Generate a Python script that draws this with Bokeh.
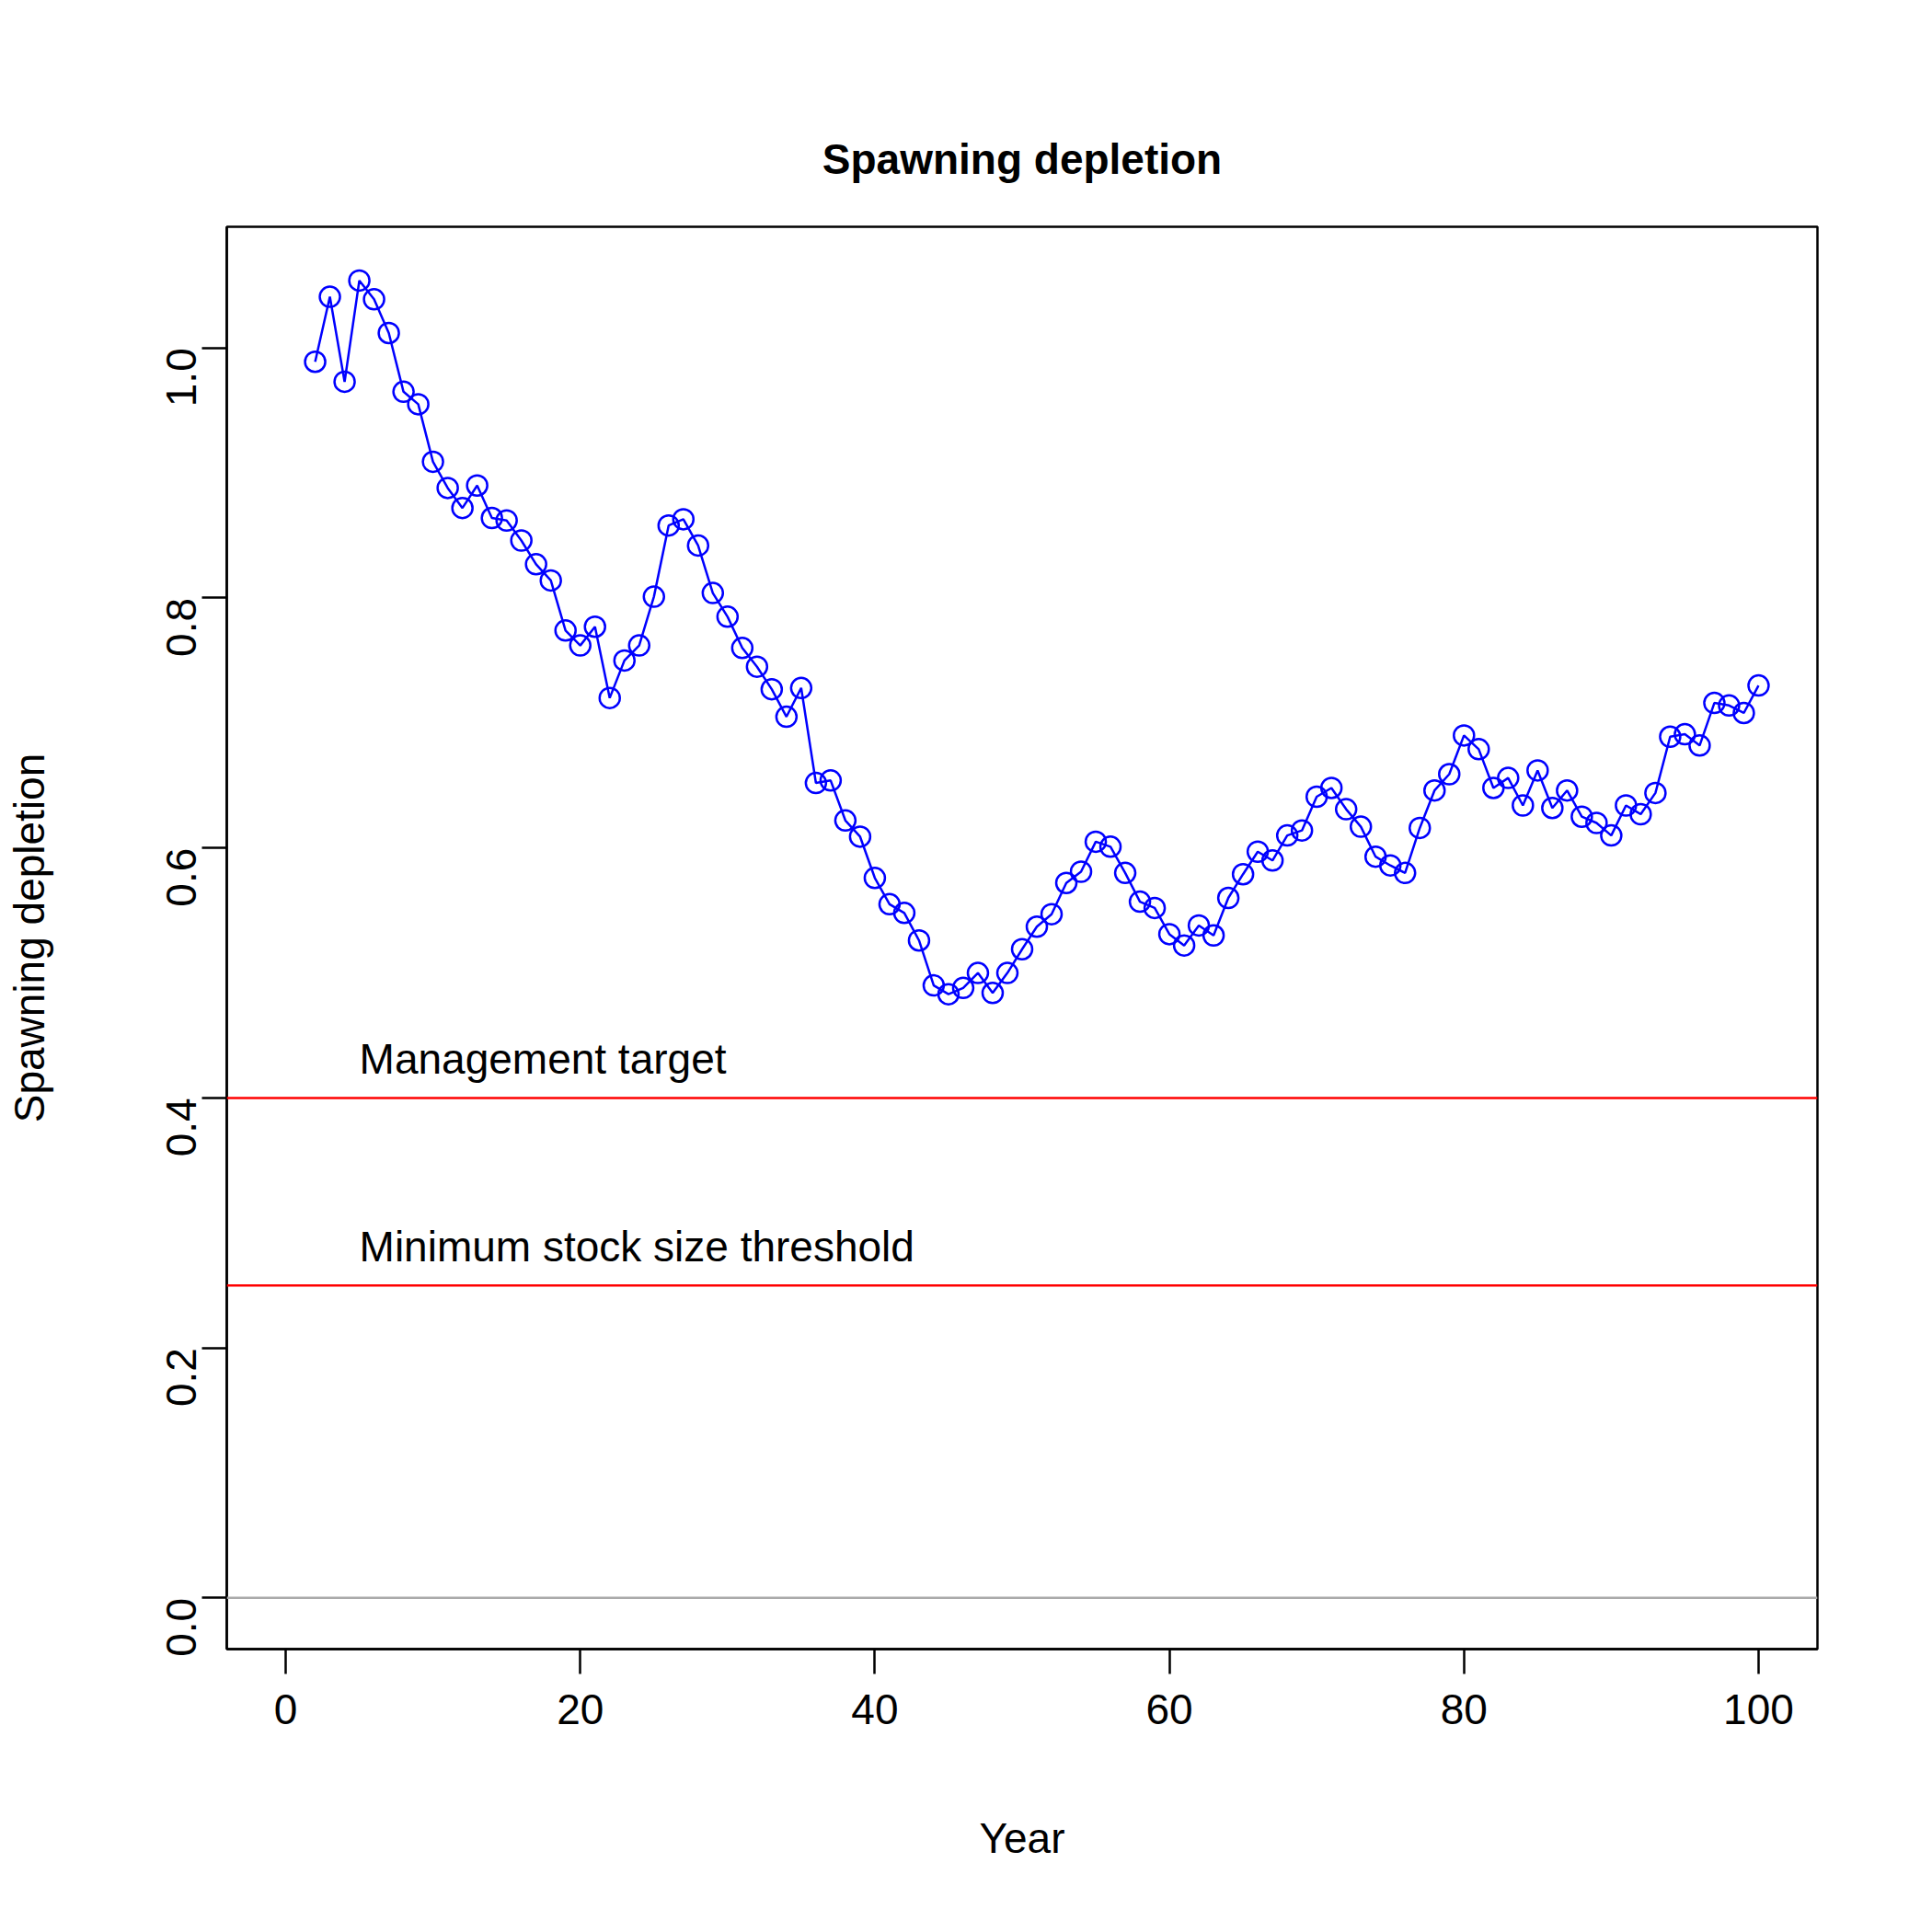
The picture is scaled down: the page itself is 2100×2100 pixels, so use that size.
import math
from bokeh.plotting import figure
from bokeh.models import Span, Label, Range1d
from bokeh.embed import file_html
from bokeh.resources import INLINE

years = list(range(2, 101))
depletion = [0.989, 1.041, 0.973, 1.054, 1.039, 1.012, 0.965, 0.955, 0.909, 0.888,
             0.872, 0.890, 0.864, 0.862, 0.846, 0.827, 0.814, 0.774, 0.762, 0.777,
             0.720, 0.750, 0.762, 0.801, 0.858, 0.863, 0.842, 0.804, 0.785, 0.760,
             0.745, 0.727, 0.705, 0.728, 0.652, 0.654, 0.622, 0.609, 0.576, 0.555,
             0.548, 0.526, 0.490, 0.483, 0.488, 0.500, 0.484, 0.500, 0.519, 0.537,
             0.547, 0.572, 0.581, 0.605, 0.601, 0.580, 0.557, 0.552, 0.531, 0.522,
             0.538, 0.530, 0.560, 0.579, 0.597, 0.590, 0.610, 0.614, 0.641, 0.648,
             0.631, 0.617, 0.593, 0.586, 0.580, 0.616, 0.646, 0.659, 0.690, 0.679,
             0.648, 0.656, 0.634, 0.662, 0.632, 0.646, 0.625, 0.620, 0.610, 0.634,
             0.627, 0.644, 0.689, 0.691, 0.682, 0.716, 0.714, 0.708, 0.730]
ref_levels = [0.4, 0.25]
ref_labels = ["Management target", "Minimum stock size threshold"]

FONT = "Liberation Sans"

p = figure(width=2080, height=2080, output_backend="svg", toolbar_location=None,
           x_range=Range1d(-4.0, 104.0), y_range=Range1d(-0.041, 1.097),
           title="Spawning depletion", x_axis_label="Year", y_axis_label="Spawning depletion",
           min_border_left=246, min_border_top=246, min_border_right=105, min_border_bottom=288)

p.title.align = "center"
p.title.text_font = FONT
p.title.text_font_size = "46px"
p.title.text_font_style = "bold"
p.title.text_color = "black"
p.title.standoff = 95
p.grid.visible = False
p.outline_line_color = "black"
p.outline_line_width = 2.5
p.background_fill_color = "white"

for ax in (p.xaxis, p.yaxis):
    ax.axis_line_width = 2.5
    ax.major_tick_line_width = 2.5
    ax.major_tick_out = 27
    ax.major_tick_in = 0
    ax.minor_tick_line_color = None
    ax.major_label_text_font = FONT
    ax.major_label_text_font_size = "46px"
    ax.major_label_text_color = "black"
    ax.axis_label_text_font = FONT
    ax.axis_label_text_font_size = "46px"
    ax.axis_label_text_font_style = "normal"
    ax.axis_label_text_color = "black"
    ax.major_label_standoff = 22

p.xaxis.axis_label_standoff = 95
p.yaxis.axis_label_standoff = 105
p.xaxis.ticker = [0, 20, 40, 60, 80, 100]
p.yaxis.ticker = [0.0, 0.2, 0.4, 0.6, 0.8, 1.0]
p.yaxis.major_label_overrides = {0.0: "0.0", 0.2: "0.2", 0.4: "0.4", 0.6: "0.6", 0.8: "0.8", 1.0: "1.0"}
p.yaxis.major_label_orientation = math.pi / 2

p.add_layout(Span(location=0, dimension="width", line_color="#aaaaaa", line_width=2.5))
for lvl, lab in zip(ref_levels, ref_labels):
    p.add_layout(Span(location=lvl, dimension="width", line_color="red", line_width=2.5))
    p.add_layout(Label(x=5, y=lvl, text=lab, y_offset=16, text_font=FONT,
                       text_font_size="46px", text_color="black"))

p.line(years, depletion, line_color="blue", line_width=2.5)
p.scatter(years, depletion, size=22, fill_color=None, line_color="blue", line_width=2.5)

open("out.html", "w").write(file_html(p, INLINE))
